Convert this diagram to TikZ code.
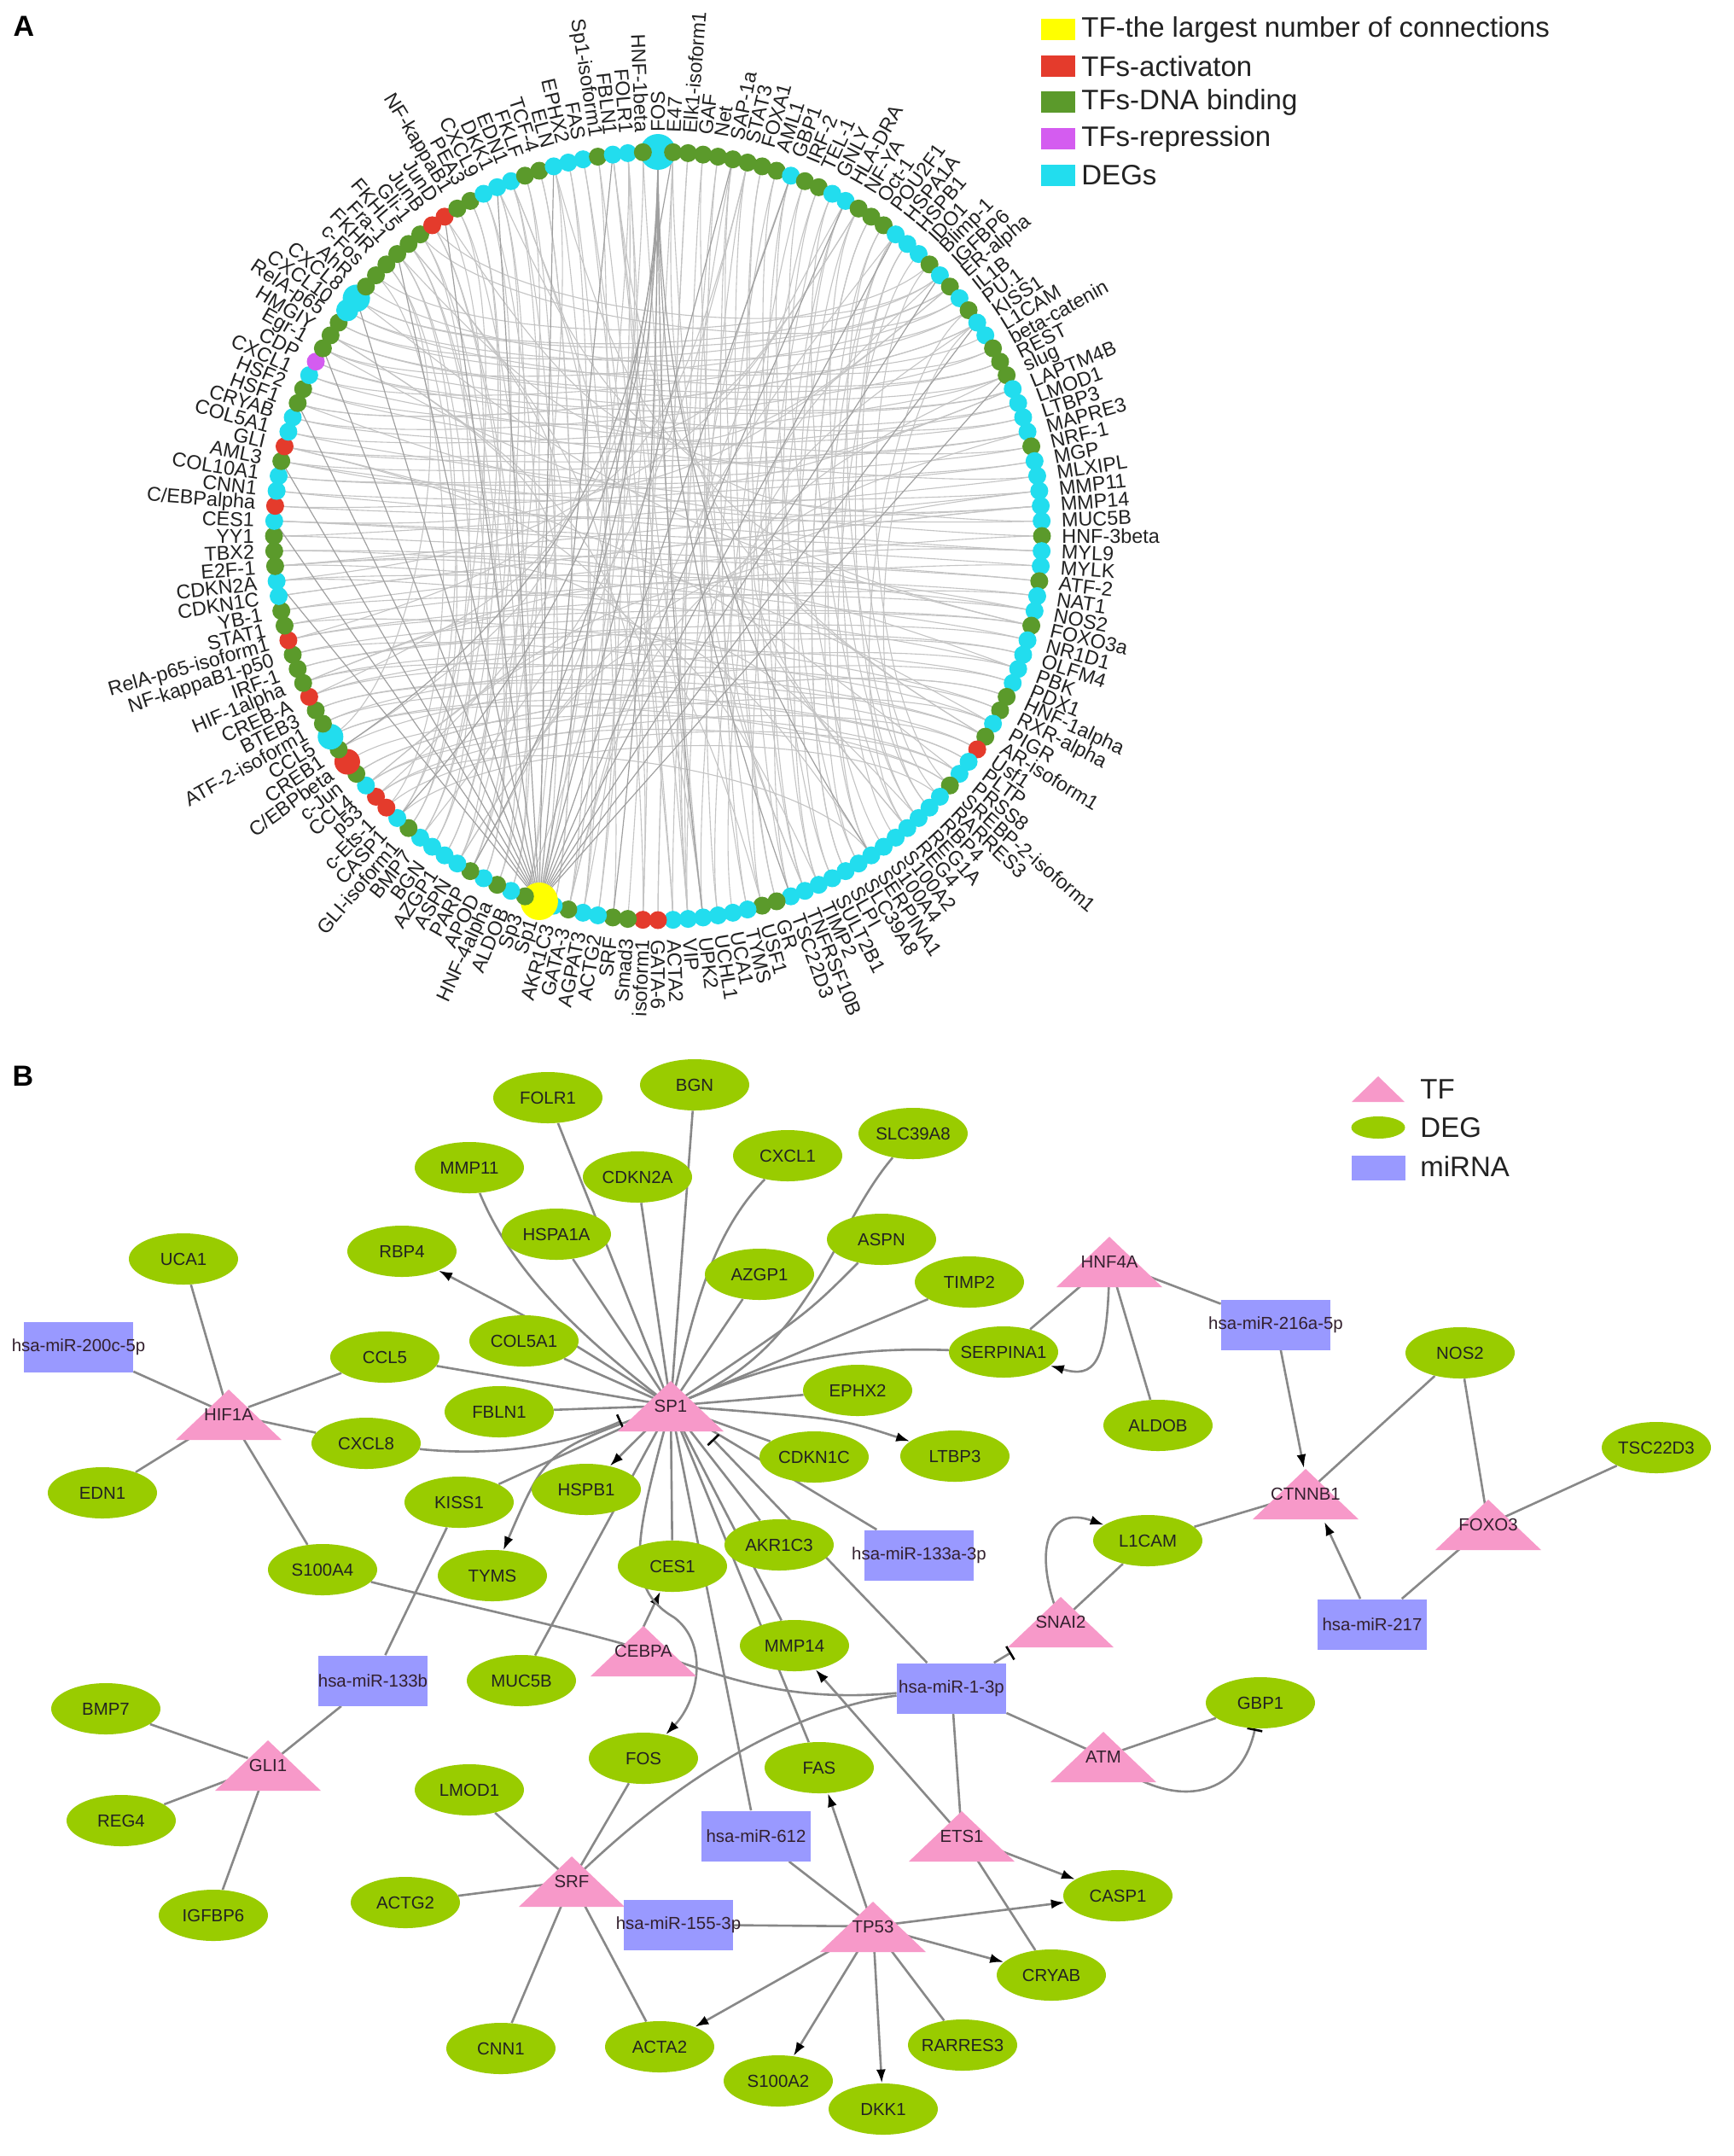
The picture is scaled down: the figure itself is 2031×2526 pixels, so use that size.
\documentclass[tikz,border=0pt]{standalone}
\usepackage{fontspec}
\setmainfont{Liberation Sans}
\usetikzlibrary{arrows.meta,calc,shapes.geometric}
\definecolor{cyA}{HTML}{22DDEE}
\definecolor{grA}{HTML}{5B9A2B}
\definecolor{rdA}{HTML}{E43B2C}
\definecolor{mgA}{HTML}{D45CF0}
\definecolor{ylA}{HTML}{FFFF00}
\definecolor{edgA}{HTML}{C4C4C4}
\definecolor{edgH}{HTML}{A0A0A0}
\definecolor{txtA}{HTML}{222222}
\definecolor{degc}{HTML}{99CC00}
\definecolor{tfc}{HTML}{F799C9}
\definecolor{mirc}{HTML}{9999FF}
\definecolor{edgeB}{HTML}{888888}
\definecolor{txtB}{HTML}{222222}
\definecolor{txtT}{HTML}{33202E}
\newcommand\fntA{\fontsize{11.7}{12}\selectfont}
\newcommand\fntB{\fontsize{10.2}{11}\selectfont}
\newcommand\fntL{\fontsize{16.5}{18}\selectfont}
\newcommand\fntP{\fontsize{17}{18}\selectfont\bfseries}
\pgfdeclarelayer{back}\pgfdeclarelayer{bg}\pgfdeclarelayer{mid}\pgfsetlayers{back,bg,mid,main}
\newcommand\tfnode[4]{%
  \node[tfn] (#1) at (#2,#3) {#4};
  \begin{pgfonlayer}{mid}
    \fill[tfc] ($(#1)+(0,29)$) -- ($(#1)+(-62,-30)$) -- ($(#1)+(62,-30)$) -- cycle;
  \end{pgfonlayer}}
\newcommand\degnode[4]{\node[deg] (#1) at (#2,#3) {\makebox[0pt]{#4}};}
\newcommand\mirnode[4]{\node[mir] (#1) at (#2,#3) {\makebox[0pt]{#4}};}
\def\ringlist{FOS/cyA/21, E47/grA/10.5, Elk1-isoform1/grA/10.5, GAF/grA/10.5, Net/grA/10.5, SAP-1a/grA/10.5, STAT3/grA/10.5, FOXA1/grA/10.5, AML1/grA/10.5, GBP1/cyA/10.5,
IRF-2/grA/10.5, TEL-1/grA/10.5, GNLY/cyA/10.5, HLA-DRA/cyA/10.5, NF-YA/grA/10.5, Oct-1/grA/10.5, POU2F1/grA/10.5, HSPA1A/cyA/10.5, HSPB1/cyA/10.5, IDO1/cyA/10.5,
Blimp-1/grA/10.5, IGFBP6/cyA/10.5, ER-alpha/grA/10.5, IL1B/cyA/10.5, PU.1/grA/10.5, KISS1/cyA/10.5, L1CAM/cyA/10.5, beta-catenin/grA/10.5, REST/grA/10.5, slug/grA/10.5,
LAPTM4B/cyA/10.5, LMOD1/cyA/10.5, LTBP3/cyA/10.5, MAPRE3/cyA/10.5, NRF-1/grA/10.5, MGP/cyA/10.5, MLXIPL/cyA/10.5, MMP11/cyA/10.5, MMP14/cyA/10.5, MUC5B/cyA/10.5,
HNF-3beta/grA/10.5, MYL9/cyA/10.5, MYLK/cyA/10.5, ATF-2/grA/10.5, NAT1/cyA/10.5, NOS2/cyA/10.5, FOXO3a/grA/10.5, NR1D1/cyA/10.5, OLFM4/cyA/10.5, PBK/cyA/10.5,
PDX1/cyA/10.5, HNF-1alpha/grA/10.5, RXR-alpha/grA/10.5, PIGR/cyA/10.5, AR-isoform1/grA/10.5, Usf1/rdA/10.5, PLTP/cyA/10.5, PRSS8/cyA/10.5, SREBP-2-isoform1/grA/10.5, RARRES3/cyA/10.5,
RBP4/cyA/10.5, REG1A/cyA/10.5, REG4/cyA/10.5, S100A2/cyA/10.5, S100A4/cyA/10.5, SERPINA1/cyA/10.5, SLC39A8/cyA/10.5, SLPI/cyA/10.5, SULT2B1/cyA/10.5, TIMP2/cyA/10.5,
TNFRSF10B/cyA/10.5, TSC22D3/cyA/10.5, GR/grA/10.5, USF1/grA/10.5, TYMS/cyA/10.5, UCA1/cyA/10.5, UCHL1/cyA/10.5, UPK2/cyA/10.5, VIP/cyA/10.5, ACTA2/cyA/10.5,
GATA-6/rdA/10.5, isoform1/rdA/10.5, Smad3/grA/10.5, SRF/grA/10.5, ACTG2/cyA/10.5, AGPAT3/cyA/10.5, GATA-3/grA/10.5, AKR1C3/cyA/10.5, Sp1/ylA/22, Sp3/grA/10.5,
ALDOB/cyA/10.5, HNF-4alpha/grA/10.5, APOD/cyA/10.5, PARP/grA/10.5, ASPN/cyA/10.5, AZGP1/cyA/10.5, BGN/cyA/10.5, BMP7/cyA/10.5, GLI-isoform1/grA/10.5, CASP1/cyA/10.5,
c-Ets-1/rdA/10.5, p53/rdA/10.5, CCL4/cyA/10.5, c-Jun/grA/10.5, {C/EBPbeta}/rdA/15, CREB1/grA/10.5, CCL5/cyA/15, ATF-2-isoform1/grA/10.5, BTEB3/grA/10.5, CREB-A/rdA/10.5,
HIF-1alpha/grA/10.5, IRF-1/grA/10.5, NF-kappaB1-p50/grA/10.5, RelA-p65-isoform1/rdA/10.5, STAT1/grA/10.5, YB-1/grA/10.5, CDKN1C/cyA/10.5, CDKN2A/cyA/10.5, E2F-1/grA/10.5, TBX2/grA/10.5,
YY1/grA/10.5, CES1/cyA/10.5, {C/EBPalpha}/rdA/10.5, CNN1/cyA/10.5, COL10A1/cyA/10.5, AML3/grA/10.5, GLI/rdA/10.5, COL5A1/cyA/10.5, CRYAB/cyA/10.5, HSF1/grA/10.5,
HSF2/grA/10.5, CXCL1/cyA/10.5, CDP/mgA/10.5, Egr-1/grA/10.5, HMGIY/grA/10.5, RelA-p65/grA/10.5, CXCL10/cyA/13, CXCL8/cyA/16, AhR/grA/10.5, c-Fos/grA/10.5,
FKHR/grA/10.5, Fra-1/grA/10.5, FKHL5/grA/10.5, Gli-1/grA/10.5, JunB/rdA/10.5, JunD/rdA/10.5, NF-kappaB1/grA/10.5, PEA3/grA/10.5, CXCL9/cyA/10.5, DKK1/cyA/10.5,
EDN1/cyA/10.5, FKLF/grA/10.5, TCF-4/grA/10.5, ELN/cyA/10.5, EPHX2/cyA/10.5, FAS/cyA/10.5, Sp1-isoform1/grA/10.5, FBLN1/cyA/10.5, FOLR1/cyA/10.5, HNF-1beta/grA/10.5}
\begin{document}
\begin{tikzpicture}[x=0.5pt,y=0.5pt,
  lblA/.style={font=\fntA, text=txtA, inner sep=0pt},
  ringedge/.style={draw=edgA, line width=0.55pt},
  hubedge/.style={draw=edgH, line width=0.6pt},
  deg/.style={ellipse, fill=degc, minimum width=64pt, minimum height=30pt, inner sep=0pt, font=\fntB, text=txtB},
  mir/.style={rectangle, fill=mirc, minimum width=64pt, minimum height=29.5pt, inner sep=0pt, font=\fntB, text=txtT},
  tfn/.style={rectangle, inner sep=0.5pt, font=\fntB, text=txtT},
  eB/.style={draw=edgeB, line width=1.3pt},
  arr/.style={eB, -{Latex[length=8pt,width=5.5pt,color=black]}},
  tbar/.style={eB, -{Bar[width=9pt,line width=1.3pt,color=black]}},
  legtxt/.style={font=\fntL, text=txtA, inner sep=0pt, anchor=west}]
\begin{pgfonlayer}{back}
\fill[white] (0,0) rectangle (2031,-2526);
\end{pgfonlayer}
\useasboundingbox (0,0) rectangle (2031,-2526);

% panel letters
\node[font=\fntP] (pA) at (28,-31) {A};
\node[font=\fntP] (pB) at (27,-1261) {B};

% legend A
\foreach \c/\t [count=\k] in {ylA/TF-the largest number of connections, rdA/TFs-activaton, grA/TFs-DNA binding, mgA/TFs-repression, cyA/DEGs}{
  \pgfmathsetmacro\yy{-(35+(\k-1)*42.5)}
  \node[rectangle, fill=\c, minimum width=20pt, minimum height=12.5pt, inner sep=0pt, anchor=west] (legA\k) at (1220,\yy) {};
  \node[legtxt] (legAt\k) at (1267,\yy) {\t};
}

% ===== Panel A: circular network =====
\begin{scope}[shift={(771,-628)}]
\coordinate (ctr) at (0,0);
\foreach \lab/\col/\dia [count=\i] in \ringlist {
  \pgfmathsetmacro\ang{90-(\i-1)*2.25}
  \node[circle, fill=\col, minimum size=\dia*1pt, inner sep=0pt] (n\i) at (\ang:450) {};
  \pgfmathtruncatemacro\rside{cos(\ang)>=-0.001}
  \ifnum\rside=1
    \node[lblA, anchor=west, rotate=\ang] (t\i) at (\ang:473) {\lab};
  \else
    \node[lblA, anchor=east, rotate=\ang+180] (t\i) at (\ang:473) {\lab};
  \fi
}
\begin{pgfonlayer}{bg}
% mirrored chords: horizontal on the sides, vertical at top and bottom
\foreach \i in {1,...,160}{
  \pgfmathsetmacro\ang{90-(\i-1)*2.25}
  \pgfmathtruncatemacro\hz{abs(cos(\ang))>abs(sin(\ang))}
  \pgfmathtruncatemacro\d{mod(\i*7,13)-6}
  \ifnum\hz=1
    \pgfmathtruncatemacro\j{mod(161-\i+\d+320,160)+1}
  \else
    \pgfmathtruncatemacro\j{mod(81-\i+\d+320,160)+1}
  \fi
  \draw[ringedge] (n\i.center) .. controls ($(ctr)!0.7!(n\i.center)$) and ($(ctr)!0.7!(n\j.center)$) .. (n\j.center);
}
% bundled arcs through the middle
\foreach \i in {2,6,...,158}{
  \pgfmathtruncatemacro\j{mod(\i+30+mod(\i*11,40),160)+1}
  \draw[ringedge] (n\i.center) .. controls ($(ctr)!0.12!(n\i.center)$) and ($(ctr)!0.12!(n\j.center)$) .. (n\j.center);
}
\foreach \k in {118,122,126,130,134,138,142,146,150,154,158,2,6,10,14,18,22,26,30}{
  \draw[hubedge] (n89.center) -- (n\k.center);
}
\foreach \k in {66,72,78,84,94,100,106}{
  \draw[hubedge] (n1.center) .. controls ($(ctr)!0.3!(n1.center)$) and ($(ctr)!0.3!(n\k.center)$) .. (n\k.center);
}
\end{pgfonlayer}
\end{scope}

% ===== Panel B =====
% legend B
\fill[tfc] (1615,-1261) -- (1584,-1291) -- (1646,-1291) -- cycle;
\node[ellipse, fill=degc, minimum width=31.5pt, minimum height=13pt, inner sep=0pt] (legDEG) at (1615,-1321) {};
\node[rectangle, fill=mirc, minimum width=31.5pt, minimum height=14.5pt, inner sep=0pt] (legMIR) at (1615,-1368) {};
\node[legtxt] (legTFt) at (1664,-1276) {TF};
\node[legtxt] (legDEGt) at (1664,-1321) {DEG};
\node[legtxt] (legMIRt) at (1664,-1367) {miRNA};

% DEG nodes
\degnode{FOLR1}{642}{-1286}{FOLR1}
\degnode{BGN}{814}{-1271}{BGN}
\degnode{MMP11}{550}{-1368}{MMP11}
\degnode{CDKN2A}{747}{-1379}{CDKN2A}
\degnode{CXCL1}{923}{-1354}{CXCL1}
\degnode{SLC39A8}{1070}{-1328}{SLC39A8}
\degnode{HSPA1A}{652}{-1446}{HSPA1A}
\degnode{RBP4}{471}{-1466}{RBP4}
\degnode{UCA1}{215}{-1475}{UCA1}
\degnode{AZGP1}{890}{-1493}{AZGP1}
\degnode{ASPN}{1033}{-1452}{ASPN}
\degnode{TIMP2}{1136}{-1502}{TIMP2}
\degnode{COL5A1}{614}{-1571}{COL5A1}
\degnode{CCL5}{451}{-1590}{CCL5}
\degnode{SERPINA1}{1176}{-1584}{SERPINA1}
\degnode{NOS2}{1711}{-1585}{NOS2}
\degnode{FBLN1}{585}{-1654}{FBLN1}
\degnode{EPHX2}{1005}{-1629}{EPHX2}
\degnode{ALDOB}{1357}{-1670}{ALDOB}
\degnode{CXCL8}{429}{-1691}{CXCL8}
\degnode{TSC22D3}{1941}{-1696}{TSC22D3}
\degnode{CDKN1C}{954}{-1707}{CDKN1C}
\degnode{LTBP3}{1119}{-1706}{LTBP3}
\degnode{EDN1}{120}{-1749}{EDN1}
\degnode{KISS1}{538}{-1760}{KISS1}
\degnode{HSPB1}{687}{-1745}{HSPB1}
\degnode{L1CAM}{1345}{-1805}{L1CAM}
\degnode{AKR1C3}{913}{-1810}{AKR1C3}
\degnode{S100A4}{378}{-1839}{S100A4}
\degnode{TYMS}{577}{-1846}{TYMS}
\degnode{CES1}{788}{-1835}{CES1}
\degnode{MMP14}{931}{-1928}{MMP14}
\degnode{MUC5B}{611}{-1969}{MUC5B}
\degnode{GBP1}{1477}{-1995}{GBP1}
\degnode{BMP7}{124}{-2002}{BMP7}
\degnode{FOS}{754}{-2060}{FOS}
\degnode{FAS}{960}{-2071}{FAS}
\degnode{LMOD1}{550}{-2097}{LMOD1}
\degnode{REG4}{142}{-2133}{REG4}
\degnode{CASP1}{1310}{-2221}{CASP1}
\degnode{ACTG2}{475}{-2229}{ACTG2}
\degnode{IGFBP6}{250}{-2244}{IGFBP6}
\degnode{CRYAB}{1232}{-2314}{CRYAB}
\degnode{RARRES3}{1128}{-2396}{RARRES3}
\degnode{CNN1}{587}{-2400}{CNN1}
\degnode{ACTA2}{773}{-2398}{ACTA2}
\degnode{S100A2}{912}{-2438}{S100A2}
\degnode{DKK1}{1035}{-2471}{DKK1}

% TF nodes
\tfnode{HIF1A}{268}{-1657}{HIF1A}
\tfnode{SP1}{786}{-1647}{SP1}
\tfnode{HNF4A}{1300}{-1478}{HNF4A}
\tfnode{CTNNB1}{1530}{-1750}{CTNNB1}
\tfnode{FOXO3}{1744}{-1786}{FOXO3}
\tfnode{SNAI2}{1243}{-1900}{SNAI2}
\tfnode{CEBPA}{754}{-1934}{CEBPA}
\tfnode{GLI1}{314}{-2068}{GLI1}
\tfnode{ATM}{1293}{-2058}{ATM}
\tfnode{SRF}{670}{-2204}{SRF}
\tfnode{ETS1}{1127}{-2151}{ETS1}
\tfnode{TP53}{1023}{-2257}{TP53}

% miRNA nodes
\mirnode{mirA}{92}{-1578}{hsa-miR-200c-5p}
\mirnode{mirB}{1495}{-1552}{hsa-miR-216a-5p}
\mirnode{mirC}{1077}{-1822}{hsa-miR-133a-3p}
\mirnode{mirD}{1608}{-1903}{hsa-miR-217}
\mirnode{mirE}{1115}{-1978}{hsa-miR-1-3p}
\mirnode{mirF}{437}{-1969}{hsa-miR-133b}
\mirnode{mirG}{886}{-2151}{hsa-miR-612}
\mirnode{mirH}{795}{-2255}{hsa-miR-155-3p}

\begin{pgfonlayer}{bg}
\foreach \a/\b in {HIF1A/UCA1, HIF1A/mirA, HIF1A/CCL5, HIF1A/CXCL8, HIF1A/EDN1, HIF1A/S100A4,
  SP1/FOLR1, SP1/BGN, SP1/CDKN2A, SP1/HSPA1A, SP1/AZGP1, SP1/TIMP2, SP1/COL5A1, SP1/CCL5, SP1/FBLN1,
  SP1/EPHX2, SP1/CDKN1C, SP1/KISS1, SP1/CES1, SP1/AKR1C3, SP1/mirC, SP1/MUC5B, SP1/MMP14, SP1/FAS, SP1/mirG,
  HNF4A/SERPINA1, HNF4A/ALDOB, HNF4A/mirB, CTNNB1/NOS2, CTNNB1/L1CAM, mirD/FOXO3, FOXO3/NOS2, FOXO3/TSC22D3,
  SNAI2/L1CAM, mirE/ATM, mirE/ETS1, ATM/GBP1, GLI1/BMP7, GLI1/REG4, GLI1/IGFBP6, GLI1/mirF, mirF/KISS1,
  SRF/LMOD1, SRF/FOS, SRF/ACTG2, SRF/CNN1, SRF/ACTA2, mirH/TP53, TP53/mirG, TP53/RARRES3, ETS1/CRYAB}{
  \draw[eB] (\a) -- (\b);
}
\foreach \a/\b in {SP1/HSPB1, ETS1/MMP14, ETS1/CASP1, TP53/FAS, TP53/CASP1, TP53/CRYAB, TP53/DKK1, TP53/S100A2, TP53/ACTA2}{
  \draw[arr] (\a) -- (\b);
}
\draw[arr] ($(CEBPA)+(0,28)$) -- (CES1);
\draw[arr] (mirB) -- ($(CTNNB1)+(-2,30)$);
\draw[arr] (mirD) -- ($(CTNNB1)+(22,-33)$);
\draw[arr] (SP1) .. controls (650,-1560) .. (RBP4);
\draw[eB] (MMP11) .. controls (600,-1490) and (680,-1565) .. (SP1);
\draw[eB] (CXCL1) .. controls (830,-1450) and (812,-1545) .. (SP1);
\draw[eB] (SLC39A8) .. controls (975,-1440) and (950,-1580) .. (SP1);
\draw[eB] (ASPN) .. controls (945,-1540) .. (SP1);
\draw[eB] (SERPINA1) .. controls (1000,-1578) and (920,-1592) .. (SP1);
\draw[arr] (SP1) .. controls (985,-1662) .. (LTBP3);
\draw[arr] (SP1) .. controls (640,-1700) .. (TYMS);
\draw[tbar] (CXCL8) .. controls (560,-1705) and (650,-1700) .. ($(SP1)+(-58,-18)$);
\draw[arr] (SP1) .. controls (745,-1800) and (730,-1860) .. (790,-1895) .. controls (830,-1925) and (820,-1990) .. (FOS);
\draw[tbar] (mirE) -- ($(SP1)+(49,-39)$);
\draw[tbar] (mirE) -- ($(SNAI2)+(-58,-36)$);
\draw[eB] (S100A4) .. controls (560,-1885) and (690,-1912) .. (760,-1935) .. controls (850,-1965) and (920,-1995) .. (mirE);
\draw[eB] (mirE) .. controls (950,-2000) and (820,-2060) .. (SRF);
\draw[arr] (HNF4A) .. controls (1298,-1600) and (1282,-1615) .. (SERPINA1);
\draw[arr] (SNAI2) .. controls (1212,-1820) and (1225,-1762) .. (L1CAM);
\draw[tbar] (ATM) .. controls (1385,-2125) and (1455,-2100) .. (GBP1);
\end{pgfonlayer}
\end{tikzpicture}
\end{document}
